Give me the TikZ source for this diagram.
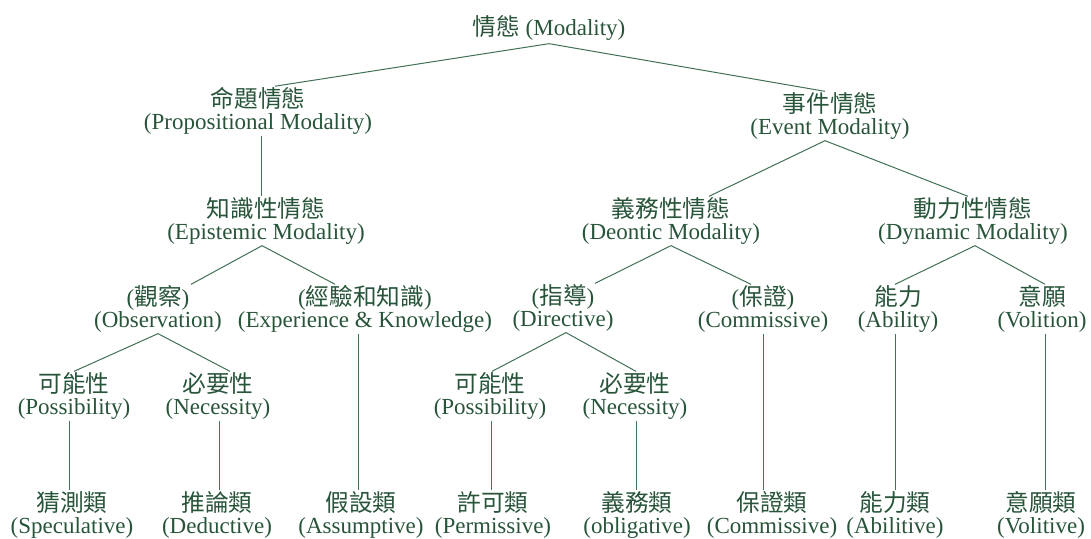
\documentclass[tikz,border=0pt]{standalone}
\usepackage{fontspec}
\setmainfont{Liberation Serif}
\newfontfamily\cjk{Noto Sans CJK TC}[Scale=1.03]
\definecolor{txtgreen}{RGB}{40,84,58}
\definecolor{lingreen}{RGB}{66,112,86}
\tikzset{
  concept/.style={text=txtgreen, font=\fontsize{23}{22}\selectfont, align=center, inner sep=1pt, anchor=center},
  link/.style={draw=lingreen, line width=1pt}
}
\begin{document}
\begin{tikzpicture}[x=1pt, y=-1pt]
\useasboundingbox (0,0) rectangle (1091,538);
% level 0
\node[concept] (mod) at (549,28) {{\cjk 情態} (Modality)};
% level 1
\node[concept] (prop) at (258,111) {{\cjk 命題情態}\\(Propositional Modality)};
\node[concept] (event) at (830,116) {{\cjk 事件情態}\\(Event Modality)};
% level 2
\node[concept] (epi) at (266,221) {{\cjk 知識性情態}\\(Epistemic Modality)};
\node[concept] (deon) at (671,221) {{\cjk 義務性情態}\\(Deontic Modality)};
\node[concept] (dyn) at (973,221) {{\cjk 動力性情態}\\(Dynamic Modality)};
% level 3
\node[concept] (obs) at (158,309) {({\cjk 觀察})\\(Observation)};
\node[concept] (exp) at (365,309) {({\cjk 經驗和知識})\\(Experience \& Knowledge)};
\node[concept] (dir) at (563,308) {({\cjk 指導})\\(Directive)};
\node[concept] (com) at (763,309) {({\cjk 保證})\\(Commissive)};
\node[concept] (abi) at (898,309) {{\cjk 能力}\\(Ability)};
\node[concept] (vol) at (1042,309) {{\cjk 意願}\\(Volition)};
% level 4
\node[concept] (possa) at (74,396) {{\cjk 可能性}\\(Possibility)};
\node[concept] (neca) at (218,396) {{\cjk 必要性}\\(Necessity)};
\node[concept] (possb) at (490,396) {{\cjk 可能性}\\(Possibility)};
\node[concept] (necb) at (635,396) {{\cjk 必要性}\\(Necessity)};
% level 5
\node[concept] (spec) at (72,515) {{\cjk 猜測類}\\(Speculative)};
\node[concept] (ded) at (217,515) {{\cjk 推論類}\\(Deductive)};
\node[concept] (ass) at (361,515) {{\cjk 假設類}\\(Assumptive)};
\node[concept] (perm) at (493,515) {{\cjk 許可類}\\(Permissive)};
\node[concept] (obl) at (637,515) {{\cjk 義務類}\\(obligative)};
\node[concept] (comb) at (772,515) {{\cjk 保證類}\\(Commissive)};
\node[concept] (abil) at (895,515) {{\cjk 能力類}\\(Abilitive)};
\node[concept] (voli) at (1041,515) {{\cjk 意願類}\\(Volitive)};
% connectors
\draw[link] ([xshift=17pt]prop.north) -- ([yshift=-2pt]mod.south) -- ([xshift=-5pt]event.north);
\draw[link] ([xshift=3pt]prop.south) -- ([xshift=3pt]prop.south |- epi.north);
\draw[link] ([xshift=33pt]obs.north) -- ([xshift=-4pt]epi.south) -- ([xshift=-30pt]exp.north);
\draw[link] ([xshift=38pt]deon.north) -- ([xshift=-5pt]event.south) -- ([xshift=-5pt]dyn.north);
\draw[link] ([xshift=32pt]dir.north) -- (deon.south) -- ([xshift=-12pt]com.north);
\draw[link] ([xshift=-3pt]abi.north) -- ([xshift=2pt]dyn.south) -- ([xshift=3pt]vol.north);
\draw[link] (possa.north) -- (obs.south) -- ([xshift=12pt]neca.north);
\draw[link] ([xshift=-7pt]exp.south) -- ([xshift=-7pt]exp.south |- ass.north);
\draw[link] ([xshift=2pt]possb.north) -- ([xshift=3pt]dir.south) -- ([xshift=1pt]necb.north);
\draw[link] (com.south) -- (com.south |- comb.north);
\draw[link] ([xshift=-3pt]abi.south) -- ([xshift=-3pt]abi.south |- abil.north);
\draw[link] ([xshift=3pt]vol.south) -- ([xshift=3pt]vol.south |- voli.north);
\draw[link] ([xshift=-5pt]possa.south) -- ([xshift=-5pt]possa.south |- spec.north);
\draw[link] ([xshift=1pt]neca.south) -- ([xshift=1pt]neca.south |- ded.north);
\draw[link] ([xshift=1pt]possb.south) -- ([xshift=1pt]possb.south |- perm.north);
\draw[link] ([xshift=1pt]necb.south) -- ([xshift=1pt]necb.south |- obl.north);
\end{tikzpicture}
\end{document}
